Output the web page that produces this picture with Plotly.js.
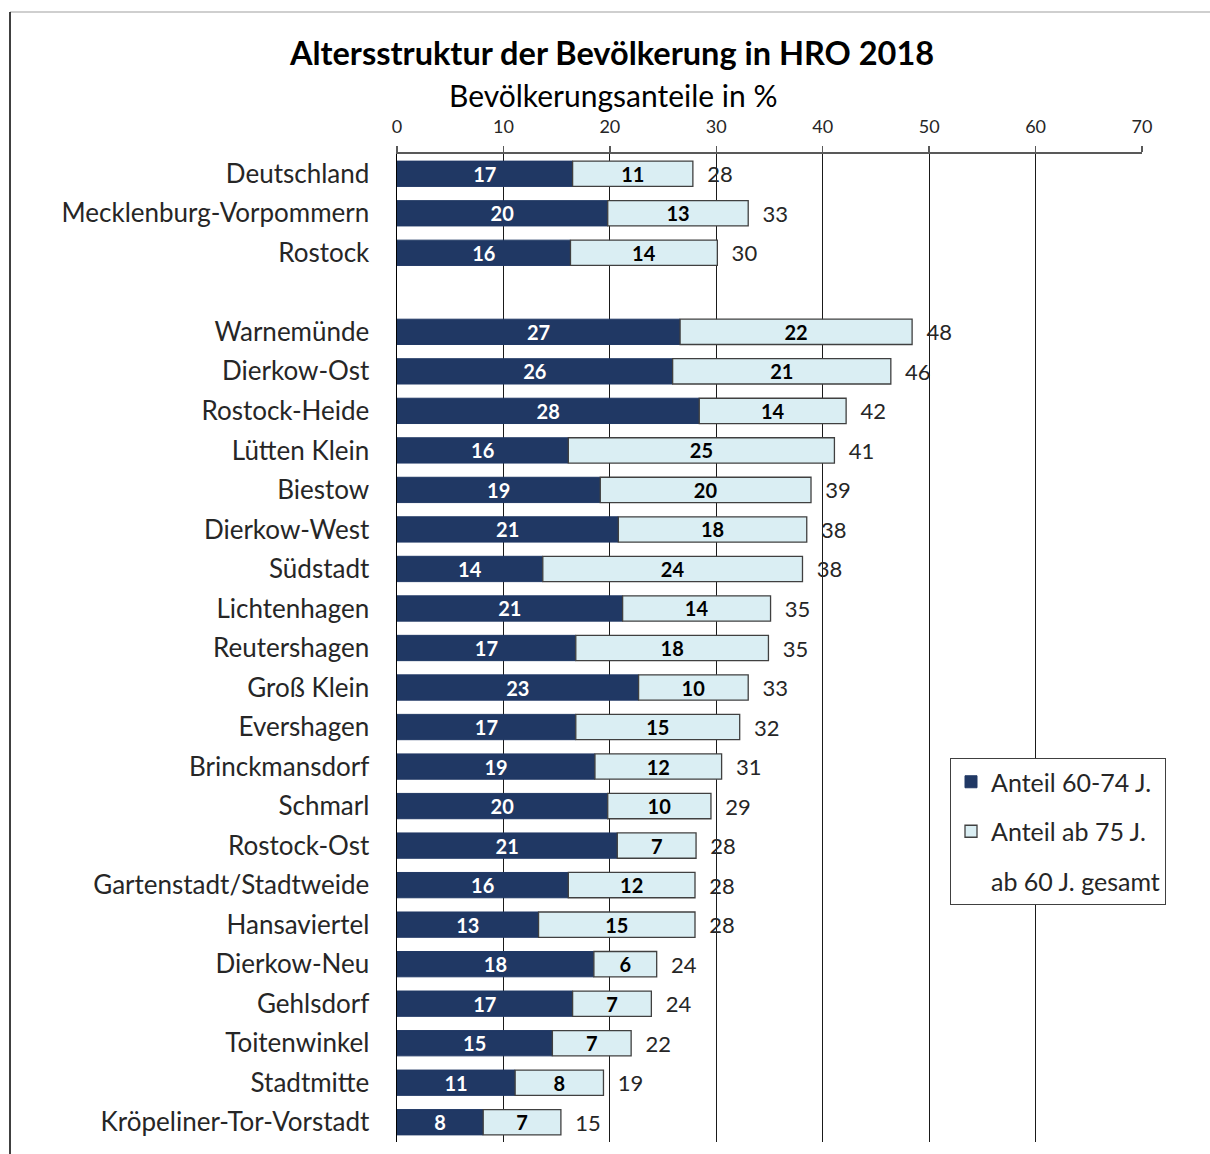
<!DOCTYPE html>
<html>
<head>
<meta charset="utf-8">
<script src="https://cdn.plot.ly/plotly-3.0.1.min.js"></script>
<style>html,body{margin:0;padding:0;background:#fff;}#chart{width:1210px;height:1154px;}</style>
</head>
<body>
<div id="chart"></div>
<script>
// Categories (blank entry = gap row)
const categories = ["Deutschland","Mecklenburg-Vorpommern","Rostock","",
  "Warnemünde","Dierkow-Ost","Rostock-Heide","Lütten Klein","Biestow","Dierkow-West",
  "Südstadt","Lichtenhagen","Reutershagen","Groß Klein","Evershagen","Brinckmansdorf",
  "Schmarl","Rostock-Ost","Gartenstadt/Stadtweide","Hansaviertel","Dierkow-Neu",
  "Gehlsdorf","Toitenwinkel","Stadtmitte","Kröpeliner-Tor-Vorstadt"];
// Anteil 60-74 J. (bar lengths, estimated)
const share6074 = [16.5,19.8,16.3,null,26.6,25.9,28.4,16.1,19.1,20.8,13.7,21.2,16.8,22.7,16.8,18.6,19.8,20.7,16.1,13.3,18.5,16.5,14.6,11.1,8.1];
// Anteil ab 75 J. (bar lengths, estimated)
const share75 = [11.3,13.2,13.8,null,21.8,20.5,13.8,25.0,19.8,17.7,24.4,13.9,18.1,10.3,15.4,11.9,9.7,7.4,11.9,14.7,5.9,7.4,7.4,8.3,7.3];
// Printed labels
const label6074 = [17,20,16,null,27,26,28,16,19,21,14,21,17,23,17,19,20,21,16,13,18,17,15,11,8];
const label75 = [11,13,14,null,22,21,14,25,20,18,24,14,18,10,15,12,10,7,12,15,6,7,7,8,7];
// ab 60 J. gesamt (printed)
const total60 = [28,33,30,null,48,46,42,41,39,38,38,35,35,33,32,31,29,28,28,28,24,24,22,19,15];
const xTicks = [0,10,20,30,40,50,60,70];

const ypos = categories.map((c,i)=>i);
const stackEnd = share6074.map((v,i)=>v==null?null:v+share75[i]);
const FONT = "Lato, 'Open Sans', sans-serif";

const t1 = {
  type:'bar', orientation:'h', name:'Anteil 60-74 J.', legendgroup:'a',
  y: ypos, x: share6074, base: 0,
  marker:{color:'#203864', line:{color:'#203864', width:1}},
  text: label6074.map(v=>v==null?'':String(v)), textposition:'inside', insidetextanchor:'middle',
  textangle:0, constraintext:'none',
  textfont:{family:FONT, size:20, color:'#ffffff', weight:'bold'},
  hoverinfo:'skip', width:0.64
};
const t2 = {
  type:'bar', orientation:'h', name:'Anteil ab 75 J.', legendgroup:'b',
  y: ypos, x: share75, base: share6074,
  marker:{color:'#DAEEF3', line:{color:'#404040', width:1.3}},
  text: label75.map(v=>v==null?'':String(v)), textposition:'inside', insidetextanchor:'middle',
  textangle:0, constraintext:'none',
  textfont:{family:FONT, size:20, color:'#000000', weight:'bold'},
  hoverinfo:'skip', width:0.64
};
const t3 = {
  type:'bar', orientation:'h', name:'ab 60 J. gesamt', legendgroup:'c',
  y: ypos, x: stackEnd, base: 0,
  marker:{color:'rgba(0,0,0,0)', line:{width:0}},
  text: total60.map(v=>v==null?'':'\u00A0\u00A0'+v), textposition:'outside',
  textangle:0, constraintext:'none', cliponaxis:false,
  outsidetextfont:{family:FONT, size:22, color:'#262626'},
  hoverinfo:'skip', width:0.64
};

const L = 397, R = 1142, T = 154, B = 1142, W = 1210, H = 1154;
const pw = R-L, ph = B-T;

const layout = {
  width:W, height:H,
  margin:{l:L, r:W-R, t:T, b:H-B},
  paper_bgcolor:'#ffffff', plot_bgcolor:'#ffffff',
  barmode:'overlay', showlegend:true,
  font:{family:FONT, color:'#262626'},
  title:{text:'<b>Altersstruktur der Bevölkerung in HRO 2018</b>', font:{family:FONT, size:32.5, color:'#000000'},
    xref:'container', yref:'container', x:612/W, y:1-54/H, xanchor:'center', yanchor:'middle'},
  xaxis:{side:'top', range:[0,70], tickvals:xTicks, ticktext:xTicks.map(String),
    showgrid:true, gridcolor:'#1a1a1a', gridwidth:1, zeroline:false,
    showline:true, linecolor:'#595959', linewidth:2,
    ticks:'outside', ticklen:6, tickcolor:'#595959', tickwidth:1.5, ticklabelstandoff:6,
    tickfont:{family:FONT, size:18, color:'#262626'}, fixedrange:true},
  yaxis:{range:[categories.length-0.5,-0.5], tickvals:ypos, ticktext:categories,
    showgrid:false, zeroline:false, showline:true, linecolor:'#000000', linewidth:1.5,
    ticks:'', ticklabelstandoff:21,
    tickfont:{family:FONT, size:26, color:'#262626'}, fixedrange:true},
  legend:{x:(950-L)/pw, y:(B-758)/ph, xanchor:'left', yanchor:'top',
    bgcolor:'#ffffff', bordercolor:'#404040', borderwidth:1,
    font:{family:FONT, size:25, color:'#262626'}, traceorder:'grouped', tracegroupgap:14,
    itemwidth:30},
  annotations:[{text:'Bevölkerungsanteile in %', xref:'paper', yref:'paper',
    x:(613-L)/pw, y:(B-95)/ph, xanchor:'center', yanchor:'middle', showarrow:false,
    font:{family:FONT, size:30, color:'#000000'}}],
  shapes:[
    {type:'line', xref:'paper', yref:'paper', x0:(10-L)/pw, x1:(W-L)/pw, y0:(B-12)/ph, y1:(B-12)/ph, line:{color:'#BFBFBF', width:1.5}},
    {type:'line', xref:'paper', yref:'paper', x0:(10-L)/pw, x1:(10-L)/pw, y0:(B-12)/ph, y1:(B-H)/ph, line:{color:'#000000', width:1.5}}
  ]
};

Plotly.newPlot('chart', [t1,t2,t3], layout, {displayModeBar:false, staticPlot:true});
</script>
</body>
</html>
